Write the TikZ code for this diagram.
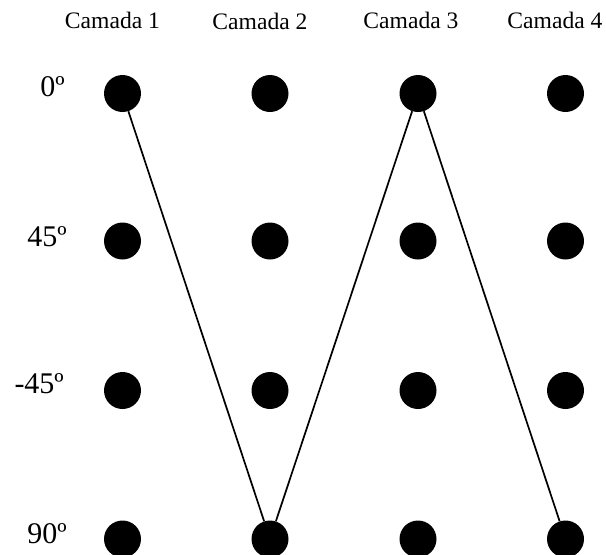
\documentclass[tikz,border=0pt]{standalone}
\usepackage{fontspec}
\setmainfont{Liberation Serif}
\begin{document}
\begin{tikzpicture}[x=1pt,y=-1pt,
  dot/.style={circle,fill=black,draw=none,minimum size=37pt,inner sep=0pt},
  collabel/.style={anchor=base,inner sep=0pt,font=\fontsize{23.6}{28}\selectfont},
  rowlabel/.style={anchor=base east,inner sep=0pt,font=\fontsize{30}{34}\selectfont},
  link/.style={line width=1.7pt}]
\useasboundingbox (0,0) rectangle (606,555);
% column labels
\node[collabel] (c1) at (112.5,28) {Camada 1};
\node[collabel] (c2) at (260,29) {Camada 2};
\node[collabel] (c3) at (411,28) {Camada 3};
\node[collabel] (c4) at (555,28) {Camada 4};
% row labels
\node[rowlabel] (r1) at (65,96) {0º};
\node[rowlabel] (r2) at (67,246) {45º};
\node[rowlabel] (r3) at (64,393) {-45º};
\node[rowlabel] (r4) at (67,543) {90º};
% dots
\foreach \c/\x in {1/122.5,2/270,3/418,4/565.5}{
  \foreach \r/\y in {1/93.5,2/241,3/390.5,4/539}{
    \node[dot] (d\c\r) at (\x,\y) {};
  }
}
\draw[link] (d11) -- (d24);
\draw[link] (d24) -- (d31);
\draw[link] (d31) -- (d44);
\end{tikzpicture}
\end{document}
